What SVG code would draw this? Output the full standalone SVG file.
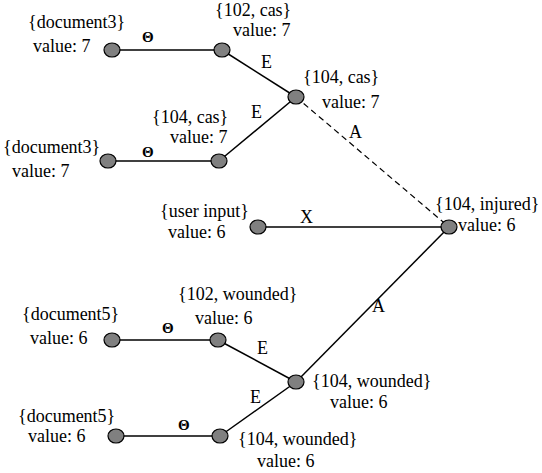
<svg xmlns="http://www.w3.org/2000/svg" width="542" height="473" viewBox="0 0 542 473">
<style>
text{font-family:'Liberation Serif','Times New Roman','DejaVu Serif',serif;fill:#000}
.t{font-size:18px}
.s{font-size:15px;font-weight:bold}
.n{fill:#808080;stroke:#000;stroke-width:1.2}
.e{stroke:#000;stroke-width:1.5;fill:none}
.d{stroke:#000;stroke-width:1.2;fill:none;stroke-dasharray:6 4}
</style>
<rect width="542" height="473" fill="#fff"/>
<g id="edges">
<line class="e" x1="112" y1="50" x2="222" y2="50"/>
<line class="e" x1="222" y1="50" x2="296" y2="97"/>
<line class="e" x1="108" y1="161" x2="219" y2="161"/>
<line class="e" x1="219" y1="161" x2="296" y2="97"/>
<line class="d" x1="296" y1="97" x2="449" y2="227"/>
<line class="e" x1="258" y1="227" x2="449" y2="227"/>
<line class="e" x1="296" y1="382" x2="449" y2="227"/>
<line class="e" x1="112" y1="340" x2="218" y2="340"/>
<line class="e" x1="218" y1="340" x2="296" y2="382"/>
<line class="e" x1="116" y1="436" x2="220" y2="436"/>
<line class="e" x1="220" y1="436" x2="296" y2="382"/>
<text class="s" x="142" y="42" font-family="Liberation Serif, serif">Θ</text>
<text class="t" x="261" y="68">E</text>
<text class="s" x="142" y="157">Θ</text>
<text class="t" x="251" y="118">E</text>
<text class="t" x="349" y="138">A</text>
<text class="t" x="300" y="223">X</text>
<text class="t" x="372" y="312">A</text>
<text class="s" x="162" y="333">Θ</text>
<text class="t" x="257" y="354">E</text>
<text class="s" x="178" y="430">Θ</text>
<text class="t" x="250" y="403">E</text>
</g>
<g id="n1"><ellipse class="n" cx="112" cy="50" rx="8" ry="7"/><text class="t" x="28" y="28">{document3}</text><text class="t" x="33" y="52">value: 7</text></g>
<g id="n2"><ellipse class="n" cx="222" cy="50" rx="8" ry="7"/><text class="t" x="215" y="16">{102, cas}</text><text class="t" x="233" y="36">value: 7</text></g>
<g id="n3"><ellipse class="n" cx="296" cy="97" rx="8" ry="7"/><text class="t" x="303" y="83">{104, cas}</text><text class="t" x="322" y="108">value: 7</text></g>
<g id="n4"><ellipse class="n" cx="108" cy="161" rx="8" ry="7"/><text class="t" x="3" y="153">{document3}</text><text class="t" x="12" y="177">value: 7</text></g>
<g id="n5"><ellipse class="n" cx="219" cy="161" rx="8" ry="7"/><text class="t" x="152" y="123">{104, cas}</text><text class="t" x="170" y="143">value: 7</text></g>
<g id="n6"><ellipse class="n" cx="449" cy="227" rx="8" ry="7"/><text class="t" x="435" y="210">{104, injured}</text><text class="t" x="458" y="231">value: 6</text></g>
<g id="n7"><ellipse class="n" cx="258" cy="227" rx="8" ry="7"/><text class="t" x="160" y="217">{user input}</text><text class="t" x="168" y="238">value: 6</text></g>
<g id="n8"><ellipse class="n" cx="112" cy="340" rx="8" ry="7"/><text class="t" x="22" y="320">{document5}</text><text class="t" x="30" y="344">value: 6</text></g>
<g id="n9"><ellipse class="n" cx="218" cy="340" rx="8" ry="7"/><text class="t" x="178" y="300">{102, wounded}</text><text class="t" x="195" y="324">value: 6</text></g>
<g id="n10"><ellipse class="n" cx="296" cy="382" rx="8" ry="7"/><text class="t" x="312" y="387">{104, wounded}</text><text class="t" x="330" y="408">value: 6</text></g>
<g id="n11"><ellipse class="n" cx="116" cy="436" rx="8" ry="7"/><text class="t" x="18" y="422">{document5}</text><text class="t" x="28" y="442">value: 6</text></g>
<g id="n12"><ellipse class="n" cx="220" cy="436" rx="8" ry="7"/><text class="t" x="238" y="445">{104, wounded}</text><text class="t" x="257" y="467">value: 6</text></g>
</svg>
